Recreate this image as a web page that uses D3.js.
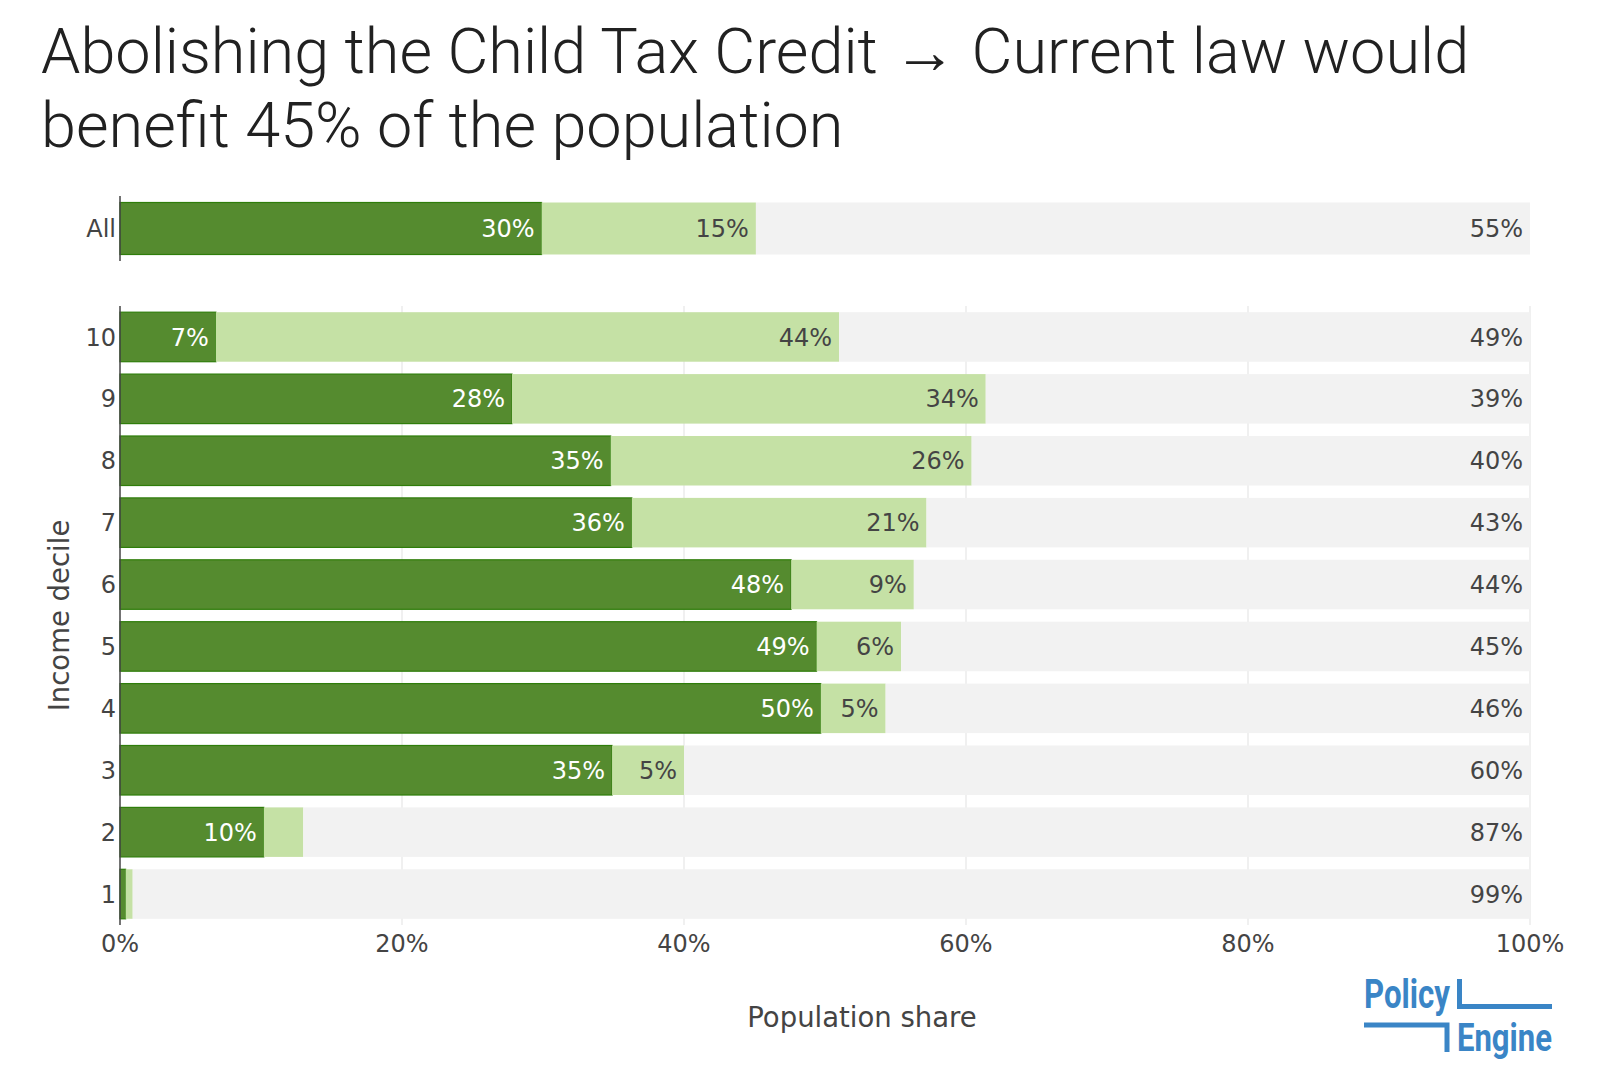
<!DOCTYPE html>
<html>
<head>
<meta charset="utf-8">
<script src="https://cdn.jsdelivr.net/npm/d3@7"></script>
<style>
  body { margin: 0; background: #fff; }
  .title { font-family: Roboto, sans-serif; font-weight: 300; fill: #212121; }
  .tick-label, .bar-label, .axis-title { font-family: Verdana, "DejaVu Sans", sans-serif; }
  .logo { font-family: Roboto, sans-serif; font-weight: 700; fill: #3a85c6; }
</style>
</head>
<body>
<svg id="chart" width="1600" height="1089"></svg>
<script>
  // values (shares of population)
  var allLabels = [ "All" ];
  var allGainMore5 = [ 0.299 ];
  var allGainLess5 = [ 0.152 ];
  var allNoChange = [ 0.549 ];

  var decileLabels = [ "1", "2", "3", "4", "5", "6", "7", "8", "9", "10" ];
  var gainMore5 = [ 0.004, 0.102, 0.349, 0.497, 0.494, 0.476, 0.363, 0.348, 0.278, 0.068 ];
  var gainLess5 = [ 0.005, 0.028, 0.051, 0.046, 0.060, 0.087, 0.209, 0.256, 0.336, 0.442 ];
  var noChange  = [ 0.991, 0.870, 0.600, 0.457, 0.446, 0.437, 0.428, 0.396, 0.386, 0.490 ];

  var xTicks = [ 0, 0.2, 0.4, 0.6, 0.8, 1 ];

  var seriesStyle = [
    { fill: "#558b2f", stroke: "#2f7d0a", text: "#ffffff" },
    { fill: "#c5e1a5", stroke: "none", text: "#444444" },
    { fill: "#f2f2f2", stroke: "none", text: "#444444" }
  ];

  var svg = d3.select( "#chart" );
  var pct = d3.format( ".0%" );

  var x = d3.scaleLinear().domain( [ 0, 1 ] ).range( [ 120, 1530 ] );
  var yAll = d3.scaleBand().domain( allLabels ).range( [ 196, 261 ] )
               .paddingInner( 0.2 ).paddingOuter( 0.1 );
  var yDec = d3.scaleBand().domain( decileLabels.slice().reverse() ).range( [ 306, 925 ] )
               .paddingInner( 0.2 ).paddingOuter( 0.1 );

  // title
  var title = svg.append( "text" ).attr( "class", "title" ).attr( "font-size", 63 );
  var line1 = title.append( "tspan" ).attr( "x", 41 ).attr( "y", 73 );
  line1.append( "tspan" ).text( "Abolishing the Child Tax Credit " );
  line1.append( "tspan" ).attr( "font-weight", 700 ).text( "\u2192" );
  line1.append( "tspan" ).text( " Current law would" );
  title.append( "tspan" ).attr( "x", 41 ).attr( "y", 147 )
       .text( "benefit 45% of the population" );

  // gridlines (lower panel only)
  svg.append( "g" ).selectAll( "line" )
     .data( xTicks.slice( 1 ) )
     .join( "line" )
     .attr( "x1", d => x( d ) ).attr( "x2", d => x( d ) )
     .attr( "y1", 306 ).attr( "y2", 925 )
     .attr( "stroke", "#ebebeb" ).attr( "stroke-width", 1.5 );

  function drawPanel( y, labels, series ) {
    var g = svg.append( "g" );
    labels.forEach( function( lab, i ) {
      var start = 0;
      series.forEach( function( vals, s ) {
        var v = vals[ i ];
        var st = seriesStyle[ s ];
        var x0 = x( start ), x1 = x( start + v );
        g.append( "rect" )
         .attr( "x", x0 ).attr( "y", y( lab ) )
         .attr( "width", x1 - x0 ).attr( "height", y.bandwidth() )
         .attr( "fill", st.fill )
         .attr( "stroke", st.stroke ).attr( "stroke-width", 1.2 );
        var t = g.append( "text" )
         .attr( "class", "bar-label" )
         .attr( "x", x1 - 7 ).attr( "y", y( lab ) + y.bandwidth() / 2 )
         .attr( "dy", "0.36em" ).attr( "text-anchor", "end" )
         .attr( "font-size", 24 ).attr( "fill", st.text )
         .text( pct( v ) );
        if( t.node().getComputedTextLength() + 12 > x1 - x0 ) t.remove();
        start += v;
      } );
    } );

    // y labels
    g.selectAll( "text.tick-label" )
     .data( labels )
     .join( "text" )
     .attr( "class", "tick-label" )
     .attr( "x", 116 ).attr( "y", d => y( d ) + y.bandwidth() / 2 )
     .attr( "dy", "0.36em" ).attr( "text-anchor", "end" )
     .attr( "font-size", 24 ).attr( "fill", "#444" )
     .text( d => d );

    var r = y.range();
    g.append( "line" )
     .attr( "x1", x( 0 ) ).attr( "x2", x( 0 ) )
     .attr( "y1", r[ 0 ] ).attr( "y2", r[ 1 ] )
     .attr( "stroke", "#444" ).attr( "stroke-width", 1.5 );
  }

  drawPanel( yAll, allLabels, [ allGainMore5, allGainLess5, allNoChange ] );
  drawPanel( yDec, decileLabels, [ gainMore5, gainLess5, noChange ] );

  // x axis tick labels
  svg.append( "g" ).selectAll( "text" )
     .data( xTicks )
     .join( "text" )
     .attr( "class", "tick-label" )
     .attr( "x", d => x( d ) ).attr( "y", 952 )
     .attr( "text-anchor", "middle" )
     .attr( "font-size", 24 ).attr( "fill", "#444" )
     .text( d => pct( d ) );

  // axis titles
  svg.append( "text" ).attr( "class", "axis-title" )
     .attr( "x", 862 ).attr( "y", 1027 ).attr( "text-anchor", "middle" )
     .attr( "font-size", 27.5 ).attr( "fill", "#444" )
     .text( "Population share" );

  svg.append( "text" ).attr( "class", "axis-title" )
     .attr( "transform", "translate(69," + ( ( 306 + 925 ) / 2 ) + ") rotate(-90)" )
     .attr( "text-anchor", "middle" )
     .attr( "font-size", 27.5 ).attr( "fill", "#444" )
     .text( "Income decile" );

  // logo
  var logo = svg.append( "g" );
  logo.append( "text" ).attr( "class", "logo" )
      .attr( "x", 1364 ).attr( "y", 1008 ).attr( "font-size", 41 )
      .attr( "textLength", 86 ).attr( "lengthAdjust", "spacingAndGlyphs" )
      .text( "Policy" );
  logo.append( "text" ).attr( "class", "logo" )
      .attr( "x", 1457 ).attr( "y", 1051 ).attr( "font-size", 39 )
      .attr( "textLength", 95 ).attr( "lengthAdjust", "spacingAndGlyphs" )
      .text( "Engine" );
  logo.append( "path" )
      .attr( "d", "M1459.5,979 V1006.5 H1552" )
      .attr( "fill", "none" ).attr( "stroke", "#3a85c6" ).attr( "stroke-width", 5 );
  logo.append( "path" )
      .attr( "d", "M1364,1025 H1447 V1052" )
      .attr( "fill", "none" ).attr( "stroke", "#3a85c6" ).attr( "stroke-width", 5 );
</script>
</body>
</html>
